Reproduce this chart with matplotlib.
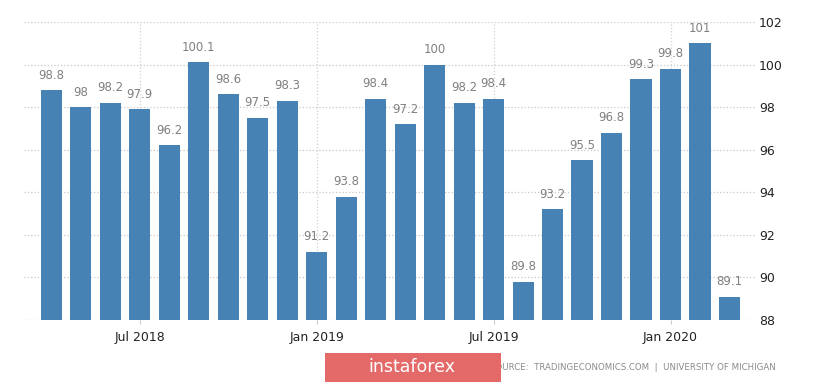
import matplotlib.pyplot as plt
from matplotlib.patches import Rectangle

# Data
months = ['Apr 2018', 'May 2018', 'Jun 2018', 'Jul 2018', 'Aug 2018', 'Sep 2018',
          'Oct 2018', 'Nov 2018', 'Dec 2018', 'Jan 2019', 'Feb 2019', 'Mar 2019',
          'Apr 2019', 'May 2019', 'Jun 2019', 'Jul 2019', 'Aug 2019', 'Sep 2019',
          'Oct 2019', 'Nov 2019', 'Dec 2019', 'Jan 2020', 'Feb 2020', 'Mar 2020']
values = [98.8, 98, 98.2, 97.9, 96.2, 100.1, 98.6, 97.5, 98.3, 91.2, 93.8, 98.4,
          97.2, 100, 98.2, 98.4, 89.8, 93.2, 95.5, 96.8, 99.3, 99.8, 101, 89.1]
tick_labels = ['Jul 2018', 'Jan 2019', 'Jul 2019', 'Jan 2020']
y_ticks = [88, 90, 92, 94, 96, 98, 100, 102]

fig = plt.figure(figsize=(8.25, 3.84), dpi=100)
ax = fig.add_axes([0.029, 0.1667, 0.886, 0.776])

x = list(range(len(values)))
bars = ax.bar(x, [v - 88 for v in values], bottom=88, width=0.72, color='#4682b4', zorder=3)

for xi, v in zip(x, values):
    ax.text(xi, v + 0.4, f'{v:g}', ha='center', va='bottom', fontsize=8.5, color='#808080', zorder=4)

ax.set_ylim(88, 102)
ax.set_xlim(-0.93, 23.86)
ax.set_yticks(y_ticks)
ax.yaxis.tick_right()
ax.tick_params(axis='y', length=0, labelsize=9, colors='#222222', pad=3)
ax.grid(axis='y', linestyle=':', color='#c8c8c8', linewidth=0.9, zorder=0)

tick_pos = [months.index(t) for t in tick_labels]
ax.set_xticks(tick_pos)
ax.set_xticklabels(tick_labels)
ax.tick_params(axis='x', length=3, color='#c8c8c8', labelsize=9, colors='#222222', pad=5)
for p in tick_pos:
    ax.axvline(p, linestyle=':', color='#d0d0d0', linewidth=0.9, zorder=0)

for s in ax.spines.values():
    s.set_visible(False)

fig.text(0.94, 0.044, 'SOURCE:  TRADINGECONOMICS.COM  |  UNIVERSITY OF MICHIGAN', ha='right',
         va='center', fontsize=6.2, color='#8a8a8a')
fig.patches.append(Rectangle((325 / 825, 2 / 384), 176 / 825, 29 / 384, transform=fig.transFigure,
                             facecolor='#e46a6a', edgecolor='none', zorder=5))
fig.text(412 / 825, 17 / 384, 'instaforex', ha='center', va='center', fontsize=12.5,
         color='white', zorder=6)

fig.savefig('out.png', dpi=100)
